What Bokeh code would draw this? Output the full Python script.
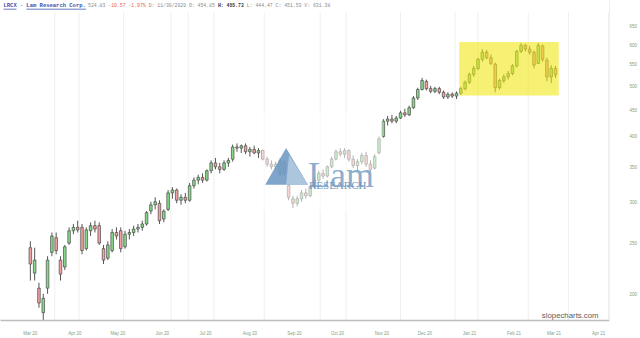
import numpy as np
import pandas as pd
from bokeh.plotting import figure
from bokeh.models import (Range1d, FixedTicker, DatetimeTickFormatter, PrintfTickFormatter,
                          Label, BoxAnnotation, PolyAnnotation, ColumnDataSource)
from bokeh.embed import file_html
from bokeh.resources import INLINE

# ---------------- data ----------------
dates = pd.date_range("2020-03-01", periods=123, freq="3D")
opens = [245,219,205,184,205,240,256,232,225,250,264,268,268,244,264,270,270,244,234,242,
         262,264,246,260,262,266,268,272,288,296,298,278,290,312,316,302,306,302,322,330,
         334,330,344,356,350,346,356,362,382,380,384,374,378,372,376,362,354,350,340,358,
         322,304,298,304,312,308,320,330,340,336,350,362,374,370,376,362,352,358,368,354,
         348,372,400,428,432,428,434,444,440,454,474,492,510,494,488,494,486,476,482,478,
         484,494,508,526,540,562,580,566,550,496,512,520,528,546,582,598,588,580,552,596,
         560,520,540]
highs = [252,245,210,200,236,262,262,236,248,268,272,276,272,268,274,276,274,248,252,266,
         268,268,264,266,270,272,276,288,300,306,302,290,316,320,318,310,312,326,334,338,
         340,346,360,364,356,360,364,386,388,386,388,382,384,380,378,366,360,358,364,360,
         326,308,308,316,318,322,334,344,346,352,366,378,380,380,378,368,362,372,374,360,
         370,400,432,438,440,438,448,452,458,478,496,518,514,500,498,498,490,486,486,488,
         498,512,530,546,566,588,586,574,554,516,526,534,550,586,604,602,596,584,604,600,
         566,548,546]
lows = [212,212,188,178,200,236,238,212,222,248,260,262,238,242,258,262,248,228,232,240,
        254,240,244,254,258,262,264,270,284,290,272,274,288,304,298,296,298,300,318,324,
        326,328,340,346,340,344,350,358,374,372,370,366,370,364,360,350,346,344,336,336,
        302,292,294,300,304,306,318,326,332,334,348,360,366,364,358,348,344,354,350,342,
        346,370,398,420,424,424,432,436,438,452,470,490,490,484,484,482,472,472,474,472,
        480,490,504,520,536,556,562,548,486,492,506,514,524,542,578,582,574,540,550,556,
        510,506,518]
closes = [228,232,192,196,232,258,242,218,246,264,268,265,242,265,270,266,250,232,248,262,
          258,244,260,262,266,268,272,286,296,300,276,288,312,316,302,306,302,322,330,334,
          330,344,356,350,346,356,360,382,380,384,374,378,372,376,362,354,350,354,360,340,
          306,298,304,312,308,320,330,340,336,350,362,374,370,376,362,352,358,368,354,346,
          366,396,428,432,428,434,444,440,454,474,492,512,494,488,494,486,476,482,478,484,
          494,508,526,540,562,580,566,552,496,512,520,528,546,582,598,588,580,548,598,562,
          520,540,525]
month_ticks = pd.date_range("2020-03-01", "2021-04-01", freq="MS")
price_ticks = [200, 250, 300, 350, 400, 450, 500, 550, 600, 650]
grid_dates = ["2020-03-18", "2020-04-04", "2020-05-05", "2020-06-07", "2020-06-19",
              "2020-07-07", "2020-08-11", "2020-09-19", "2020-10-07", "2020-11-14",
              "2020-12-22", "2021-01-07", "2021-02-11", "2021-03-11", "2021-04-08"]

header_name = ["LRCX", "Lam Research Corp."]
header_last = "524.83"
header_change = "-10.57 -1.97%"
header_info1 = "D: 11/30/2020 O: 454.85"
header_info2 = "H: 455.73"
header_info3 = "L: 444.47 C: 451.53 V: 631.38"

# ---------------- pixel helpers for decorations ----------------
DAY = 86400000.0
REF = pd.Timestamp("2020-03-01").value / 1e6
PXD = 571.0 / 396.0


def xd(px):
    return REF + (px - 30.0) / PXD * DAY


def yd(py):
    return 200.0 * np.exp((296.0 - py) / 229.0)


W, H = 640, 338
FR_W, FR_H = 612, 323

p = figure(width=W, height=H, output_backend="svg", toolbar_location=None,
           x_axis_type="datetime", y_axis_type="log", y_axis_location="right",
           x_range=Range1d(xd(0), xd(FR_W)), y_range=Range1d(yd(FR_H), yd(0)),
           min_border_left=0, min_border_right=W - FR_W, min_border_top=0,
           min_border_bottom=H - FR_H)
p.outline_line_color = None
p.xgrid.visible = False
p.ygrid.visible = False
p.background_fill_color = "white"
p.border_fill_color = "white"

# vertical grid lines
gd = pd.to_datetime(grid_dates)
p.segment(x0=gd, y0=yd(FR_H), x1=gd, y1=yd(12), line_color="#efefef", line_width=1,
          level="underlay")

# candles
o = np.array(opens, float)
c = np.array(closes, float)
src = ColumnDataSource(dict(
    x=dates, o=o, h=highs, l=lows, c=c,
    top=np.maximum(o, c), bottom=np.minimum(o, c),
    color=["#86d986" if cc >= oo else "#f2a0a0" for oo, cc in zip(o, c)],
))
p.segment(x0="x", y0="h", x1="x", y1="l", source=src, line_color="#555555", line_width=1)
p.vbar(x="x", width=1.8 * DAY, top="top", bottom="bottom", source=src,
       fill_color="color", line_color="#4a4a4a", line_width=0.7)

# watermark (semi transparent white plate + Lam Research logo)
p.add_layout(BoxAnnotation(left=xd(262), right=xd(384), top=yd(112), bottom=yd(212),
                           fill_color="white", fill_alpha=0.55, line_color=None))
p.add_layout(PolyAnnotation(xs=[xd(287), xd(266), xd(309)], ys=[yd(149), yd(186), yd(186)],
                            fill_color="#5f8fbd", fill_alpha=0.8, line_color=None))
p.add_layout(PolyAnnotation(xs=[xd(290), xd(287), xd(309)], ys=[yd(156), yd(186), yd(186)],
                            fill_color="#b4cbe2", fill_alpha=0.85, line_color=None))
p.add_layout(Label(x=xd(309), y=yd(176), text="Lam", text_font="Liberation Serif",
                   text_font_size="36px", text_color="#6d97c1", text_alpha=0.8,
                   text_baseline="alphabetic"))
p.add_layout(Label(x=xd(310), y=yd(186.5), text="RESEARCH", text_font="Liberation Serif",
                   text_font_size="11px", text_color="#6a93bd", text_alpha=0.95,
                   text_baseline="alphabetic"))

# highlight box
p.add_layout(BoxAnnotation(left=xd(461), right=xd(561), top=yd(42), bottom=yd(96),
                           fill_color="#f0e814", fill_alpha=0.6, line_color=None))

# header
hy = yd(5)
p.add_layout(Label(x=xd(3), y=hy, text=header_name[0], text_font="Liberation Mono",
                   text_font_size="5.5px", text_color="#3b4fb0", text_font_style="bold",
                   text_baseline="middle"))
p.add_layout(Label(x=xd(19.5), y=hy, text="-", text_font="Liberation Mono",
                   text_font_size="5.5px", text_color="#3b4fb0", text_baseline="middle"))
p.add_layout(Label(x=xd(26), y=hy, text=header_name[1], text_font="Liberation Mono",
                   text_font_size="5.5px", text_color="#3b4fb0", text_font_style="bold",
                   text_baseline="middle"))
p.add_layout(BoxAnnotation(left=xd(3), right=xd(16), top=yd(8.3), bottom=yd(9),
                           fill_color="#3b4fb0", fill_alpha=1, line_color=None))
p.add_layout(BoxAnnotation(left=xd(26), right=xd(86), top=yd(8.3), bottom=yd(9),
                           fill_color="#3b4fb0", fill_alpha=1, line_color=None))
for txt, xpx, col, sty in [(header_last, 88, "#8a8a8a", "normal"),
                           (header_change, 108.3, "#e0604f", "normal"),
                           (header_info1, 148.9, "#8a8a8a", "normal"),
                           (header_info2, 218.5, "#333333", "bold"),
                           (header_info3, 247.5, "#8a8a8a", "normal")]:
    p.add_layout(Label(x=xd(xpx), y=hy, text=txt, text_font="Liberation Mono",
                       text_font_size="4.8px", text_color=col, text_font_style=sty,
                       text_baseline="middle"))

# site mark
p.add_layout(Label(x=xd(544), y=yd(318), text="slopecharts.com", text_font="Liberation Sans",
                   text_font_size="7.8px", text_color="#5a5a5a", text_baseline="middle"))

# axes
xa = p.xaxis[0]
xa.ticker = FixedTicker(ticks=[t.value / 1e6 for t in month_ticks])
xa.formatter = DatetimeTickFormatter(days="%b %y", months="%b %y", years="%b %y",
                                     hours="%b %y", minutes="%b %y")
xa.axis_line_color = "#bdbdbd"
xa.axis_line_width = 1.5
xa.major_tick_line_color = None
xa.minor_tick_line_color = None
xa.major_label_text_font = "Liberation Sans"
xa.major_label_text_font_size = "4.5px"
xa.major_label_text_color = "#7f9f7f"
xa.major_label_standoff = 4

ya = p.yaxis[0]
ya.ticker = FixedTicker(ticks=price_ticks)
ya.formatter = PrintfTickFormatter(format="%d")
ya.axis_line_color = "#f0f0f0"
ya.major_tick_line_color = None
ya.minor_tick_line_color = None
ya.major_label_text_font = "Liberation Sans"
ya.major_label_text_font_size = "4.5px"
ya.major_label_text_color = "#7f9f7f"
ya.major_label_standoff = 14

open("out.html", "w").write(file_html(p, INLINE))
